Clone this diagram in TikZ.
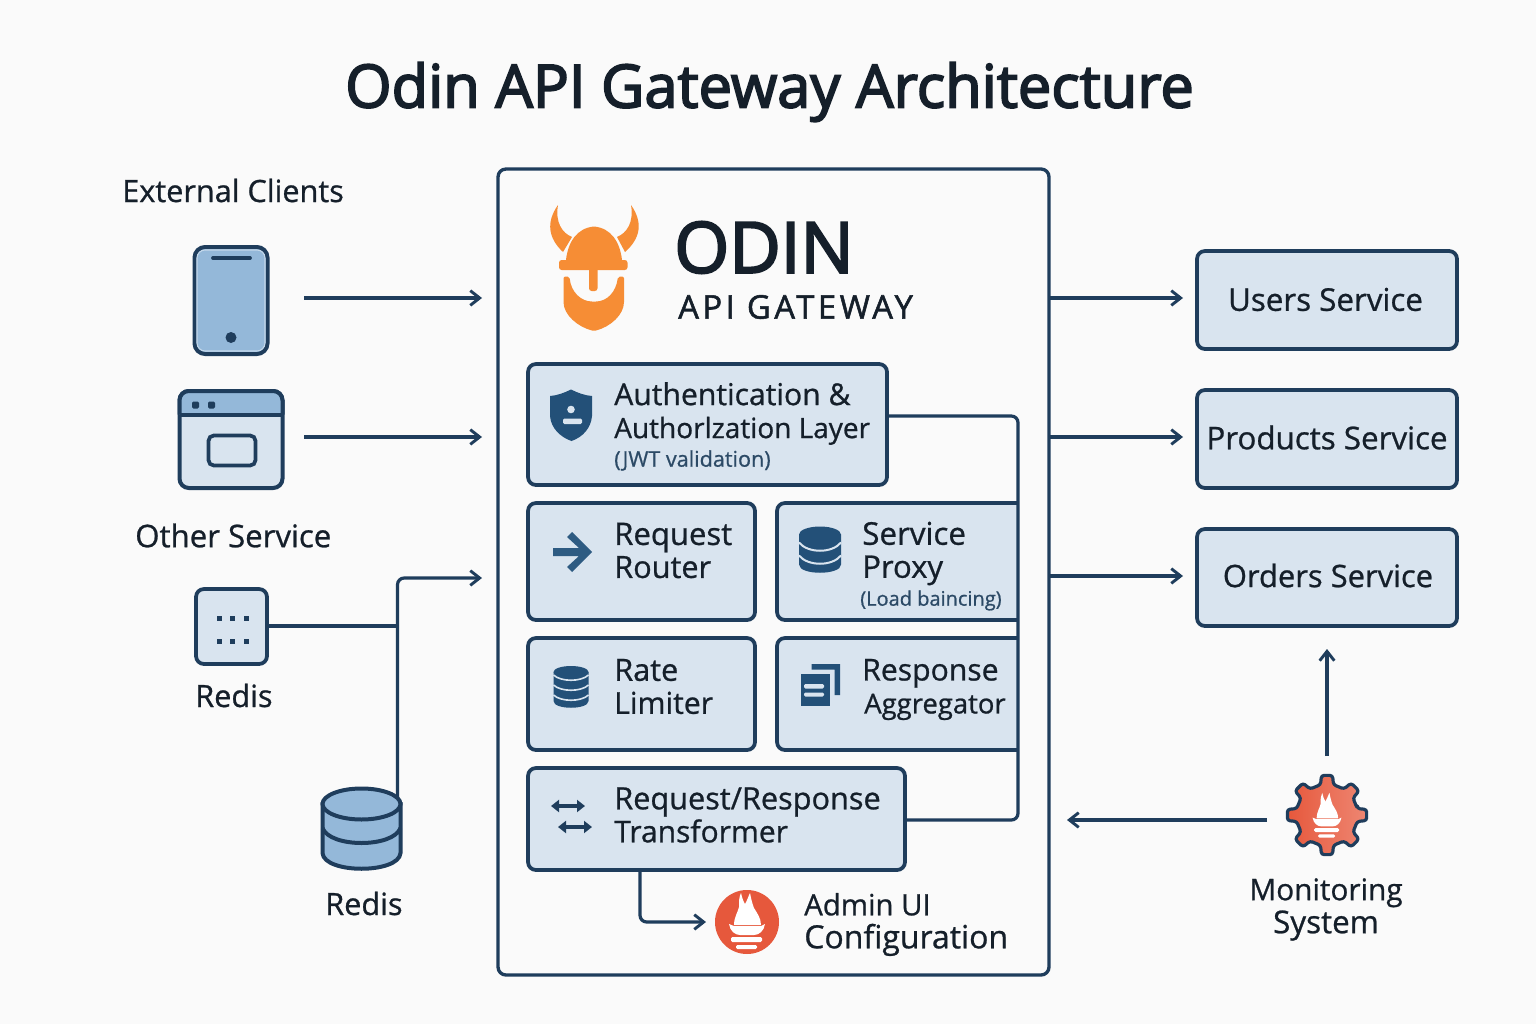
\documentclass[tikz,border=0pt]{standalone}
\usepackage{fontspec}
\usepackage{xcolor}
\usetikzlibrary{arrows.meta}
\setmainfont[FakeBold=0.8]{Open Sans}
\newfontfamily\medfont[FakeBold=3]{Open Sans}
\newfontfamily\spacedfont[FakeBold=1.6,LetterSpace=11]{Open Sans}
\newcommand{\linefs}[2]{{\fontsize{#1}{24.75}\selectfont #2}}

\definecolor{inkblue}{HTML}{1F3D5C}
\definecolor{iconblue}{HTML}{235078}
\definecolor{panelfill}{HTML}{D9E4EF}
\definecolor{softblue}{HTML}{94B8D9}
\definecolor{paper}{HTML}{FAFAFA}
\definecolor{textink}{HTML}{151F2A}
\definecolor{subink}{HTML}{2C4A66}
\definecolor{logoorange}{HTML}{F68D35}
\definecolor{flamered}{HTML}{E6583C}
\definecolor{flamelight}{HTML}{EE8672}

\tikzset{
  every pic/.style={yscale=-1},
  sized/.style 2 args={minimum width=#1*0.75pt,minimum height=#2*0.75pt,inner sep=0pt,outer sep=0pt},
  panelbox/.style={draw=inkblue,fill=panelfill,line width=2.8pt,rounded corners=6pt},
  conn/.style={draw=inkblue,line width=2.4pt,rounded corners=5pt},
  arrowconn/.style={conn,-{Straight Barb[length=7pt,width=11pt,line width=2.2pt]}},
  twoway/.style={{Triangle[length=6pt,width=9pt]}-{Triangle[length=6pt,width=9pt]},inkblue,line width=2.6pt},
  label/.style={anchor=west,align=left,inner sep=0pt,text=textink,font=\fontsize{23}{24.75}\selectfont},
  sublabel/.style={anchor=west,inner sep=0pt,text=subink,font=\fontsize{15.5}{18}\selectfont},
  flameicon/.pic={
    \fill[white] (-13,3) .. controls (-13,-5) and (-9,-10) .. (-8,-15) .. controls (-8,-21) and (-8,-25) .. (-6,-29) .. controls (-5,-25) and (-4,-21) .. (-2,-18) .. controls (0,-21) and (1,-25) .. (3,-29) .. controls (4,-24) and (5,-19) .. (7,-14) .. controls (10,-9) and (14,-4) .. (14,3) -- cycle;
    \fill[white] (-18,2) -- (-13,4) -- (14,4) -- (18,2) .. controls (17,9) and (12,13) .. (7,13) -- (-7,13) .. controls (-12,13) and (-17,9) .. (-18,2) -- cycle;
    \fill[white,rounded corners=1pt] (-16,15) rectangle (15,20);
    \fill[white,rounded corners=1pt] (-11,23) rectangle (10,27);
  },
  dbicon/.pic={
    \fill[iconblue] (-21,-15) -- (-21,15) .. controls (-21,26) and (21,26) .. (21,15) -- (21,-15) -- cycle;
    \fill[iconblue] (0,-15) ellipse [x radius=21,y radius=8];
    \draw[panelfill,line width=1.5pt] (-21,-7) .. controls (-12,4) and (12,4) .. (21,-7);
    \draw[panelfill,line width=1.5pt] (-21,6) .. controls (-12,17) and (12,17) .. (21,6);
  },
  stackicon/.pic={
    \fill[iconblue] (-17.5,-14) -- (-17.5,15) .. controls (-17.5,24) and (17.5,24) .. (17.5,15) -- (17.5,-14) -- cycle;
    \fill[iconblue] (0,-14) ellipse [x radius=17.5,y radius=6];
    \foreach \yy in {-11,-1,9}
      \draw[panelfill,line width=1.2pt] (-17.5,\yy) .. controls (-10,\yy+7) and (10,\yy+7) .. (17.5,\yy);
  }
}

\begin{document}
\begin{tikzpicture}[x=0.75pt,y=0.75pt,yscale=-1,xscale=1]
    \fill[paper] (0,0) rectangle (1536,1024);
    \useasboundingbox (0,0) rectangle (1536,1024);

    % Title
    \node (title) at (769.5,92) [inner sep=0pt,text=textink,font=\fontsize{44.7}{50}\medfont] {Odin API Gateway Architecture};

    % Gateway frame
    \node (gatewaybox) at (773.5,572) [sized={551}{806},draw=inkblue,fill=paper,line width=2.5pt,rounded corners=6pt] {};

    % External clients
    \node (clientslabel) at (122,190.5) [label] {External Clients};
    \node (phone) at (231,300.5) [sized={73}{107},draw=inkblue,fill=softblue,line width=3pt,rounded corners=8pt] {};
    \draw[white!45!softblue,line width=0.8pt,rounded corners=6pt] (197,250) rectangle (265,351);
    \draw[inkblue,line width=2.8pt,line cap=round] (213,258) -- (250,258);
    \fill[inkblue] (231,337.5) circle (5.5);

    \node (browser) at (231,439.5) [sized={103}{97},draw=inkblue,fill=panelfill,line width=3pt,rounded corners=7pt] {};
    \draw[draw=inkblue,fill=softblue,line width=3pt,rounded corners=7pt] (179.5,414.5) -- (179.5,391) -- (282.5,391) -- (282.5,414.5);
    \draw[inkblue,line width=3pt] (179.5,414.5) -- (282.5,414.5);
    \fill[inkblue,rounded corners=1pt] (192,401.5) rectangle (199,408.5);
    \fill[inkblue,rounded corners=1pt] (208,401.5) rectangle (215,408.5);
    \node (browserinner) at (232,450.5) [sized={47}{30},draw=inkblue,fill=panelfill,line width=2.8pt,rounded corners=4pt] {};

    \node (otherlabel) at (135,535.5) [label,font=\fontsize{23.4}{25}\selectfont] {Other Service};

    \node (redisbox) at (231.5,626.5) [sized={71}{75},draw=inkblue,fill=panelfill,line width=2.8pt,rounded corners=6pt] {};
    \foreach \dotx in {219.5,232.5,246}
      \foreach \doty in {618.5,641.5}
        \fill[inkblue] (\dotx-2.5,\doty-2.5) rectangle (\dotx+2.5,\doty+2.5);
    \node (redislabel) at (195,695.5) [label] {Redis};

    % Redis cylinder
    \node (redisdb) at (361.5,828.5) [sized={79}{80}] {};
    \draw[draw=inkblue,fill=softblue,line width=3pt] (322.5,804) -- (322.5,853) .. controls (324,874) and (399,874) .. (400.5,853) -- (400.5,804) -- cycle;
    \draw[draw=inkblue,line width=3pt] (322.5,828) .. controls (330,848) and (393,848) .. (400.5,828);
    \draw[draw=inkblue,fill=softblue,line width=3pt] (361.5,804) ellipse [x radius=39,y radius=15.5];
    \node (redisdblabel) at (325,903.5) [label] {Redis};

    % Logo
    \begin{scope}[fill=logoorange]
      \fill (558,205) .. controls (546,222) and (548,238) .. (563,252) -- (572,237) .. controls (562,233) and (555,222) .. (558,205) -- cycle;
      \fill (631,205) .. controls (643,222) and (641,238) .. (625,252) -- (617,237) .. controls (627,233) and (634,222) .. (631,205) -- cycle;
      \fill (594,226.5) .. controls (577,228) and (568,242) .. (566,260) -- (622,260) .. controls (620,242) and (611,228) .. (594,226.5) -- cycle;
      \fill[rounded corners=2pt] (559,260) rectangle (627.5,270);
      \fill[rounded corners=2pt] (589,265) rectangle (597.5,291);
      \fill[rounded corners=1.5pt] (563.5,276.5) -- (569.5,276.5) .. controls (571,292) and (581,301.5) .. (594,301.5) .. controls (607,301.5) and (616,292) .. (618,276.5) -- (624,276.5) -- (624,300) .. controls (624,315) and (610,327) .. (594,331) .. controls (578,327) and (563.5,315) .. (563.5,300) -- cycle;
    \end{scope}
    \node (odinname) at (674,247.5) [label,font=\fontsize{53}{58}\medfont] {ODIN};
    \node (gatewayname) at (678,307) [label,font=\fontsize{24.5}{27}\spacedfont] {API GATEWAY};

    % Authentication panel
    \node (authbox) at (707.5,424.5) [panelbox,sized={359}{121}] {};
    \fill[iconblue] (571,389.5) .. controls (564,393) and (557,395.5) .. (550,396) -- (550,416) .. controls (551,428) and (560,437) .. (571.5,441) .. controls (583,437) and (591,428) .. (592,416) -- (592,396) .. controls (585,395.5) and (578,393) .. (571,389.5) -- cycle;
    \fill[panelfill] (571,409.5) circle (3.8);
    \fill[panelfill,rounded corners=1pt] (563,418.5) rectangle (582,424);
    \node (authlabel) at (614,413.5) [label] {\linefs{22.6}{Authentication \&}\\\linefs{21}{Authorlzation Layer}};
    \node (authsub) at (614,460.5) [sublabel,font=\fontsize{16.2}{18}\selectfont] {(JWT validation)};

    % Router panel
    \node (routerbox) at (641.5,561.5) [panelbox,sized={227}{117}] {};
    \fill[iconblue!90!softblue] (553,548) -- (579,548) -- (567,537) -- (572,532) -- (592,552) -- (572,572) -- (567,567) -- (579,556) -- (553,556) -- cycle;
    \node (routerlabel) at (614,550.5) [label] {\linefs{23.3}{Request}\\\linefs{23}{Router}};

    % Proxy panel, its right side is the bus line
    \node (proxybox) at (897.5,561.5) [sized={241}{117}] {};
    \draw[panelbox] (proxybox.north east) -- (proxybox.north west) -- (proxybox.south west) -- (proxybox.south east);
    \pic at (820,549.5) {dbicon};
    \node (proxylabel) at (862,553.5) [label] {\linefs{23.5}{Service}\\\linefs{23.3}{Proxy}};
    \node (proxysub) at (860,600.5) [sublabel,font=\fontsize{15}{18}\selectfont] {(Load baincing)};

    % Limiter panel
    \node (limiterbox) at (641.5,694) [panelbox,sized={227}{112}] {};
    \pic at (571,686) {stackicon};
    \node (limiterlabel) at (614,686.5) [label] {\linefs{23}{Rate}\\\linefs{22.6}{Limiter}};

    % Aggregator panel, right side as above
    \node (aggregatebox) at (897.5,694) [sized={241}{112}] {};
    \draw[panelbox] (aggregatebox.north east) -- (aggregatebox.north west) -- (aggregatebox.south west) -- (aggregatebox.south east);
    \fill[iconblue] (811.5,664) -- (840,664) -- (840,695) -- (834.5,695) -- (834.5,669.5) -- (811.5,669.5) -- cycle;
    \fill[iconblue] (800.5,674) rectangle (829.5,706);
    \fill[panelfill,rounded corners=1pt] (804,684) rectangle (824,688.5);
    \fill[panelfill,rounded corners=1pt] (804,692.5) rectangle (824,696.5);
    \node (aggregatelabel) at (862,689.5) [label] {\linefs{22.6}{Response}\\\hspace{1.5pt}\linefs{20.6}{Aggregator}};

    % Transformer panel
    \node (transformbox) at (716.5,819) [panelbox,sized={377}{102}] {};
    \draw[twoway] (551,806) -- (585,806);
    \draw[twoway] (558,827) -- (592,827);
    \node (transformlabel) at (614,815) [label] {\linefs{23}{Request/Response}\\\linefs{22.5}{Transformer}};

    % Admin UI
    \node (adminflame) at (747,922) [circle,sized={64}{64},fill=flamered] {};
    \pic at (747,922) {flameicon};
    \node (adminlabel) at (804,924.5) [label] {\linefs{22}{Admin UI}\\\linefs{24}{Configuration}};

    % Services
    \node (usersbox) at (1327,300) [panelbox,sized={260}{98}] {};
    \node (userslabel) at (1325.5,299.5) [inner sep=0pt,text=textink,font=\fontsize{23.5}{25}\selectfont] {Users Service};
    \node (productsbox) at (1327,439) [panelbox,sized={260}{98}] {};
    \node (productslabel) at (1327,437.5) [inner sep=0pt,text=textink,font=\fontsize{23.5}{25}\selectfont] {Products Service};
    \node (ordersbox) at (1327,577.5) [panelbox,sized={260}{97}] {};
    \node (orderslabel) at (1328,575.5) [inner sep=0pt,text=textink,font=\fontsize{23.2}{25}\selectfont] {Orders Service};

    % Monitoring gear
    \node (gear) at (1327,815) [circle,sized={80}{80}] {};
    \begin{scope}[shift={(1327,815)}]
      \draw[draw=inkblue,left color=flamered,right color=flamelight,line width=2.4pt,rounded corners=2pt,line join=round]
        (-12:31) \foreach \ang in {0,45,...,315} { -- (\ang-12:31) -- (\ang-8:40) -- (\ang+8:40) -- (\ang+12:31) } -- cycle;
    \end{scope}
    \pic[scale=0.8] at (1327,816) {flameicon};
    \node (monitorlabel) at (1326,909.5) [align=center,inner sep=0pt,text=textink,font=\fontsize{23}{24.75}\selectfont] {\linefs{22.3}{Monitoring}\\\linefs{23.5}{System}};

    % Free ends of connectors
    \coordinate (phonestart) at (304,298);
    \coordinate (phoneend) at (482,298);
    \coordinate (browserstart) at (304,437);
    \coordinate (browserend) at (482,437);
    \coordinate (redisbusend) at (482,578);
    \coordinate (redisjoin) at (397.5,626);
    \coordinate (redisbustop) at (397.5,578);
    \coordinate (redisdbtop) at (397.5,798);
    \coordinate (busx) at (1018,416);
    \coordinate (busbottom) at (1018,820);
    \coordinate (authout) at (887,416);
    \coordinate (transformout) at (905,820);
    \coordinate (adminbend) at (640,922);
    \coordinate (adminend) at (706,922);
    \coordinate (userstart) at (1050,298);
    \coordinate (userend) at (1183,298);
    \coordinate (productstart) at (1050,437);
    \coordinate (productend) at (1183,437);
    \coordinate (orderstart) at (1050,576);
    \coordinate (orderend) at (1183,576);
    \coordinate (gearup) at (1327,756);
    \coordinate (orderup) at (1327,649);
    \coordinate (gearleft) at (1267,820);
    \coordinate (gatewayin) at (1067,820);

    % Connectors
    \draw[arrowconn] (phonestart) -- (phoneend);
    \draw[arrowconn] (browserstart) -- (browserend);
    \draw[conn] (redisbox.east |- redisjoin) -- (redisjoin);
    \draw[arrowconn] (redisdbtop) -- (redisbustop) -- (redisbusend);
    \draw[conn] (authout) -- (busx) -- (busbottom) -- (transformout);
    \draw[arrowconn] (transformbox.south -| adminbend) -- (adminbend) -- (adminend);
    \draw[arrowconn] (userstart) -- (userend);
    \draw[arrowconn] (productstart) -- (productend);
    \draw[arrowconn] (orderstart) -- (orderend);
    \draw[arrowconn] (gearup) -- (orderup);
    \draw[arrowconn] (gearleft) -- (gatewayin);
\end{tikzpicture}
\end{document}
